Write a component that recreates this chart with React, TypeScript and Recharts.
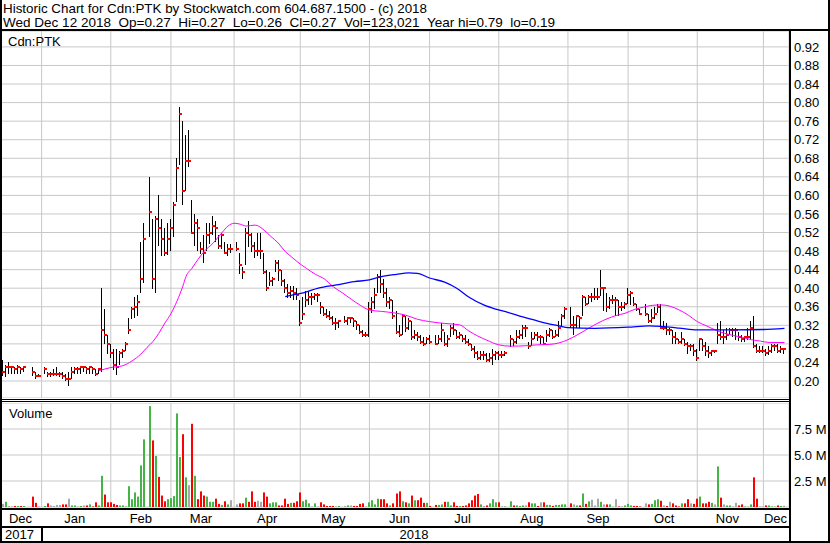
import React from "react";
import { ComposedChart, Bar, Line, XAxis, YAxis, CartesianGrid } from "recharts";

const FONT = "'Liberation Sans', Arial, sans-serif";

// one slot per weekday, 13 Dec 2017 .. 13 Dec 2018 (holidays left empty)
const highs: (number | null)[] = [
  0.245, 0.235, 0.24, 0.23, 0.23, 0.235, 0.23, 0.23, null, null, 0.23, 0.22, 0.215,
  null, 0.23, 0.22, 0.22, 0.225, 0.23, 0.22, 0.22, 0.215, 0.22, 0.23, 0.23, 0.23, 0.23, 0.23, 0.23, 0.23, 0.23, 0.225, 0.225, 0.4, 0.355, 0.3,
  0.28, 0.27, 0.27, 0.265, 0.27, 0.285, 0.335, 0.36, 0.38, 0.385, 0.5, 0.54,
  null, 0.64, 0.55, 0.555, 0.6, 0.55, 0.53, 0.54,
  0.55, 0.585, 0.68, 0.79, 0.76, 0.73, 0.74, 0.59, 0.56, 0.55, 0.5, 0.515, 0.54, 0.54, 0.555, 0.545, 0.515, 0.52, 0.5, 0.495, 0.495,
  null, 0.5, 0.475, 0.445, 0.53, 0.545, 0.52, 0.5, 0.52, 0.52, 0.475, 0.44, 0.435, 0.425, 0.46, 0.46, 0.44, 0.42, 0.41, 0.405, 0.405, 0.4,
  0.375, 0.38, 0.395, 0.395, 0.39, 0.39, 0.39, 0.37, 0.36, 0.355, 0.35, 0.34, 0.335, 0.33,
  null, 0.34, 0.335, 0.335, 0.335, 0.33, 0.32, 0.31, 0.305, 0.37, 0.38, 0.4, 0.43, 0.44, 0.42, 0.4, 0.38, 0.375, 0.35, 0.32, 0.345, 0.34, 0.335, 0.33, 0.31, 0.305, 0.3, 0.295, 0.295, 0.3,
  null, 0.3, 0.3, 0.325, 0.305, 0.3, 0.32, 0.325, 0.31, 0.305, 0.3, 0.3, 0.29, 0.28, 0.275, 0.265, 0.265, 0.265, 0.26, 0.26, 0.27, 0.265, 0.265, 0.265, 0.265,
  null, 0.3, 0.29, 0.31, 0.31, 0.32, 0.32, 0.285, 0.305, 0.305, 0.305, 0.3, 0.295, 0.31, 0.315, 0.31, 0.31, 0.33, 0.345, 0.36,
  null, 0.36, 0.34, 0.34, 0.34, 0.385, 0.38, 0.385, 0.39, 0.4, 0.4, 0.44, 0.4, 0.39, 0.38, 0.385, 0.38, 0.375, 0.37, 0.37, 0.4, 0.395, 0.38, 0.365, 0.355,
  null, 0.365, 0.345, 0.355, 0.36, 0.365, 0.365, 0.33, 0.325, 0.315, 0.31, 0.305, 0.29, 0.305, 0.29, 0.285, 0.28, 0.28, 0.27, 0.29, 0.29, 0.285, 0.275, 0.265, 0.265,
  0.325, 0.33, 0.31, 0.315, 0.315, 0.315, 0.315, 0.305, 0.3, 0.295, 0.315, 0.33, 0.34, 0.28, 0.275, 0.275, 0.27, 0.275, 0.28, 0.28, 0.28, 0.275, 0.27, null,
];

const lows: (number | null)[] = [
  0.21, 0.21, 0.215, 0.215, 0.215, 0.215, 0.215, 0.22, null, null, 0.21, 0.205, 0.21,
  null, 0.215, 0.21, 0.21, 0.21, 0.21, 0.21, 0.205, 0.2, 0.19, 0.205, 0.215, 0.215, 0.215, 0.22, 0.215, 0.215, 0.215, 0.21, 0.215, 0.22, 0.28, 0.26,
  0.25, 0.225, 0.215, 0.235, 0.25, 0.265, 0.3, 0.335, 0.335, 0.34, 0.39, 0.41,
  null, 0.51, 0.4, 0.39, 0.49, 0.47, 0.47, 0.47,
  0.48, 0.51, 0.585, 0.665, 0.58, 0.61, 0.66, 0.52, 0.49, 0.48, 0.475, 0.455, 0.48, 0.495, 0.515, 0.5, 0.485, 0.485, 0.475, 0.47, 0.475,
  null, 0.48, 0.43, 0.42, 0.45, 0.49, 0.48, 0.465, 0.47, 0.465, 0.43, 0.395, 0.405, 0.405, 0.435, 0.415, 0.405, 0.39, 0.38, 0.38, 0.375, 0.375,
  0.32, 0.33, 0.36, 0.365, 0.365, 0.375, 0.37, 0.345, 0.34, 0.335, 0.33, 0.32, 0.31, 0.315,
  null, 0.325, 0.32, 0.325, 0.315, 0.31, 0.3, 0.295, 0.295, 0.295, 0.345, 0.355, 0.39, 0.39, 0.38, 0.36, 0.355, 0.335, 0.3, 0.295, 0.3, 0.305, 0.31, 0.29, 0.29, 0.285, 0.28, 0.275, 0.28, 0.28,
  null, 0.28, 0.28, 0.285, 0.275, 0.275, 0.295, 0.3, 0.29, 0.29, 0.285, 0.28, 0.275, 0.265, 0.25, 0.245, 0.245, 0.245, 0.24, 0.24, 0.235, 0.245, 0.245, 0.25, 0.255,
  null, 0.275, 0.275, 0.28, 0.29, 0.29, 0.295, 0.27, 0.275, 0.29, 0.285, 0.28, 0.28, 0.285, 0.295, 0.29, 0.295, 0.295, 0.32, 0.335,
  null, 0.315, 0.3, 0.315, 0.315, 0.34, 0.36, 0.365, 0.37, 0.375, 0.375, 0.385, 0.35, 0.35, 0.355, 0.365, 0.34, 0.34, 0.35, 0.355, 0.365, 0.365, 0.36, 0.35, 0.345,
  null, 0.34, 0.325, 0.325, 0.335, 0.345, 0.315, 0.31, 0.3, 0.3, 0.28, 0.28, 0.28, 0.28, 0.275, 0.26, 0.265, 0.255, 0.245, 0.265, 0.265, 0.255, 0.25, 0.255, 0.26,
  0.28, 0.29, 0.28, 0.29, 0.3, 0.295, 0.29, 0.285, 0.285, 0.285, 0.29, 0.29, 0.27, 0.26, 0.26, 0.26, 0.255, 0.255, 0.26, 0.265, 0.26, 0.26, 0.26, null,
];

const closes: (number | null)[] = [
  0.22, 0.23, 0.23, 0.23, 0.225, 0.23, 0.225, 0.23, null, null, 0.22, 0.21, 0.21,
  null, 0.225, 0.215, 0.215, 0.215, 0.215, 0.215, 0.21, 0.205, 0.205, 0.22, 0.225, 0.225, 0.23, 0.23, 0.225, 0.23, 0.225, 0.215, 0.225, 0.31, 0.3, 0.28,
  0.26, 0.235, 0.23, 0.26, 0.265, 0.28, 0.31, 0.355, 0.36, 0.37, 0.42, 0.505,
  null, 0.565, 0.42, 0.55, 0.53, 0.505, 0.475, 0.505,
  0.53, 0.58, 0.66, 0.775, 0.61, 0.675, 0.675, 0.52, 0.54, 0.53, 0.485, 0.475, 0.515, 0.52, 0.535, 0.53, 0.49, 0.515, 0.475, 0.485, 0.485,
  null, 0.485, 0.45, 0.435, 0.52, 0.515, 0.49, 0.48, 0.48, 0.48, 0.435, 0.4, 0.415, 0.42, 0.455, 0.44, 0.415, 0.4, 0.39, 0.395, 0.39, 0.385,
  0.325, 0.345, 0.375, 0.38, 0.38, 0.385, 0.385, 0.36, 0.345, 0.34, 0.335, 0.325, 0.325, 0.33,
  null, 0.33, 0.335, 0.335, 0.33, 0.32, 0.305, 0.3, 0.3, 0.355, 0.37, 0.385, 0.425, 0.41, 0.39, 0.37, 0.375, 0.34, 0.305, 0.3, 0.34, 0.315, 0.33, 0.295, 0.3, 0.295, 0.285, 0.28, 0.29, 0.285,
  null, 0.28, 0.29, 0.31, 0.28, 0.29, 0.315, 0.31, 0.295, 0.3, 0.29, 0.285, 0.28, 0.27, 0.26, 0.25, 0.255, 0.255, 0.245, 0.25, 0.255, 0.26, 0.255, 0.255, 0.26,
  null, 0.29, 0.285, 0.295, 0.3, 0.315, 0.315, 0.275, 0.29, 0.3, 0.295, 0.295, 0.28, 0.3, 0.31, 0.295, 0.3, 0.315, 0.34, 0.355,
  null, 0.32, 0.32, 0.34, 0.335, 0.38, 0.365, 0.38, 0.38, 0.38, 0.38, 0.4, 0.4, 0.36, 0.375, 0.375, 0.375, 0.36, 0.36, 0.365, 0.385, 0.39, 0.365, 0.355, 0.345,
  null, 0.345, 0.33, 0.335, 0.345, 0.36, 0.315, 0.315, 0.31, 0.31, 0.295, 0.29, 0.285, 0.29, 0.28, 0.275, 0.275, 0.265, 0.25, 0.29, 0.275, 0.265, 0.26, 0.265, 0.265,
  0.3, 0.295, 0.295, 0.3, 0.31, 0.31, 0.31, 0.295, 0.29, 0.295, 0.295, 0.315, 0.275, 0.265, 0.265, 0.265, 0.26, 0.265, 0.275, 0.275, 0.265, 0.27, 0.27, null,
];

// millions of shares
const volumes: (number | null)[] = [
  0.3, 0.5, 0.1, 0.05, 0.1, 0.1, 0.1, 0.1, null, null, 1.0, 0.4, 0.05,
  null, 0.1, 0.35, 0.15, 0.1, 0.2, 0.2, 0.25, 0.25, 0.8, 0.15, 0.15, 0.05, 0.1, 0.15, 0.15, 0.25, 0.05, 0.45, 0.15, 3.0, 1.2, 0.45,
  0.45, 0.3, 0.2, 0.15, 0.15, 0.05, 2.0, 0.75, 1.4, 1.0, 4.0, 6.5,
  null, 9.7, 6.4, 4.9, 2.9, 1.1, 0.55, 0.75,
  0.85, 1.05, 9.0, 4.8, 7.0, 2.85, 2.1, 8.0, 3.0, 0.75, 1.5, 1.1, 1.0, 0.5, 0.5, 0.8, 0.3, 0.2, 0.55, 0.25, 0.65,
  null, 0.25, 0.35, 0.35, 0.9, 0.5, 1.5, 0.5, 0.6, 0.5, 1.4, 1.0, 0.35, 0.45, 0.45, 0.15, 0.15, 0.8, 0.3, 0.4, 0.4, 0.55,
  1.4, 0.55, 0.7, 0.35, 0.05, 0.35, 0.05, 0.45, 0.25, 0.1, 0.1, 0.1, 0.05, 0.1,
  null, 0.1, 0.15, 0.15, 0.1, 0.1, 0.3, 0.35, 0.05, 0.45, 0.65, 0.25, 0.8, 0.75, 0.75, 0.35, 0.15, 0.35, 1.3, 1.5, 0.55, 0.45, 0.35, 1.1, 0.65, 0.65, 0.9, 0.4, 0.4, 0.1,
  null, 0.2, 0.2, 0.25, 0.5, 0.5, 0.15, 0.45, 0.1, 0.1, 0.1, 0.15, 0.35, 0.65, 1.1, 1.25, 0.25, 0.1, 0.15, 0.35, 0.75, 0.45, 0.45, 0.05, 0.05,
  null, 0.55, 0.15, 0.15, 0.1, 0.15, 0.15, 0.45, 0.35, 0.35, 0.1, 0.45, 0.45, 0.2, 0.2, 0.1, 0.2, 0.2, 0.25, 0.25,
  null, 0.35, 0.25, 0.15, 0.15, 1.3, 0.3, 0.55, 0.7, 0.15, 0.8, 0.5, 0.25, 0.25, 0.25, 0.05, 0.75, 0.05, 0.05, 0.15, 0.3, 0.15, 0.1, 0.1, 0.05,
  null, 0.35, 0.25, 0.3, 0.65, 0.75, 0.6, 0.15, 0.1, 0.5, 0.35, 0.15, 0.05, 0.35, 0.35, 0.75, 0.35, 0.3, 0.8, 1.0, 0.35, 0.35, 0.5, 0.4, 0.25,
  3.9, 0.9, 0.25, 0.15, 0.15, 0.05, 0.4, 0.15, 0.25, 0.05, 0.05, 0.25, 2.85, 0.8, 0.05, 0.05, 0.15, 0.15, 0.05, 0.05, 0.15, 0.1, 0.12, null,
];

// moving averages at these slots
const maShortSlots = [32, 36, 40, 43, 46, 48, 50, 52, 54, 56, 58, 60, 61, 63, 65, 67, 70, 73, 75, 77, 79, 81, 84, 87, 89, 92, 94, 96, 98, 101, 104, 107, 110, 113, 116, 119, 122, 126, 130, 134, 138, 142, 147, 152, 155, 158, 161, 165, 169, 174, 178, 182, 185, 188, 191, 195, 198, 201, 204, 207, 210, 213, 216, 219, 222, 225, 228, 231, 234, 237, 240, 243, 246, 249, 252, 255, 260];
const maShortValues = [0.222, 0.229, 0.233, 0.243, 0.258, 0.272, 0.285, 0.303, 0.325, 0.345, 0.372, 0.405, 0.425, 0.443, 0.462, 0.479, 0.497, 0.52, 0.534, 0.54, 0.538, 0.534, 0.536, 0.525, 0.513, 0.495, 0.479, 0.468, 0.457, 0.443, 0.43, 0.42, 0.403, 0.39, 0.376, 0.363, 0.353, 0.35, 0.347, 0.342, 0.333, 0.328, 0.324, 0.321, 0.308, 0.297, 0.288, 0.278, 0.275, 0.276, 0.278, 0.279, 0.282, 0.289, 0.299, 0.314, 0.325, 0.334, 0.341, 0.346, 0.354, 0.359, 0.363, 0.364, 0.361, 0.353, 0.342, 0.328, 0.319, 0.31, 0.303, 0.298, 0.294, 0.289, 0.286, 0.283, 0.283];
const maLongSlots = [94, 97, 100, 105, 111, 117, 122, 126, 131, 135, 138, 142, 147, 151, 155, 160, 164, 168, 173, 177, 181, 185, 188, 197, 208, 215, 220, 225, 231, 242, 253, 260];
const maLongValues = [0.382, 0.386, 0.39, 0.4, 0.407, 0.414, 0.418, 0.425, 0.43, 0.433, 0.432, 0.422, 0.413, 0.4, 0.381, 0.364, 0.355, 0.348, 0.338, 0.331, 0.324, 0.319, 0.315, 0.3135, 0.316, 0.319, 0.317, 0.314, 0.31, 0.31, 0.311, 0.3135];

const priceTicks = [0.2, 0.24, 0.28, 0.32, 0.36, 0.4, 0.44, 0.48, 0.52, 0.56, 0.6, 0.64, 0.68, 0.72, 0.76, 0.8, 0.84, 0.88, 0.92];
const volumeTicks = [2.5, 5, 7.5];
const monthStartSlots = [13, 36, 56, 77, 99, 122, 142, 165, 188, 208, 231, 253];
const monthLabelSlots = [6, 24, 46, 66, 88, 110, 132, 153, 176, 198, 220, 241, 257];
const monthLabels = ["Dec", "Jan", "Feb", "Mar", "Apr", "May", "Jun", "Jul", "Aug", "Sep", "Oct", "Nov", "Dec"];

// layout
const W = 830;
const H = 543;
const AXIS_W = 41;
const PRICE_TOP = 31;
const PRICE_BOTTOM = 398;
const Y_AT_020 = 381; // pixel row of 0.20
const PX_PER_DOLLAR = 464;
const priceDomain = [
  0.2 - (PRICE_BOTTOM - Y_AT_020) / PX_PER_DOLLAR,
  0.2 + (Y_AT_020 - PRICE_TOP) / PX_PER_DOLLAR,
];
const VOL_TOP = 403;
const VOL_PLOT_H = 104;
const MONTH_ROW_H = 20;

const GREEN = "#44b444";
const RED = "#ff0000";
const GREY = "#a8a8a8";
const GRID = "#c8c8c8";

let prevClose: number | null = null;
const rows = highs.map((hi, i) => {
  const cl = closes[i];
  let dir = 0;
  if (cl != null && prevClose != null) dir = cl > prevClose ? 1 : cl < prevClose ? -1 : 0;
  if (cl != null) prevClose = cl;
  return {
    slot: i,
    hi,
    lo: lows[i],
    cl,
    range: hi == null ? null : [lows[i], hi],
    vol: volumes[i],
    dir,
    maS: null as number | null,
    maL: null as number | null,
  };
});
maShortSlots.forEach((s, j) => (rows[s].maS = maShortValues[j]));
maLongSlots.forEach((s, j) => (rows[s].maL = maLongValues[j]));

const tickStyle = { fontSize: 13, fill: "#000", fontFamily: FONT };

function PriceBar(props: any) {
  const { x, y, width, height, payload } = props;
  if (!payload || payload.hi == null) return <g />;
  const cx = Math.round(x + width / 2) - 1;
  const span = payload.hi - payload.lo;
  const cy = span > 0 ? y + ((payload.hi - payload.cl) / span) * height : y;
  return (
    <g>
      <rect x={cx} y={Math.round(y)} width={1} height={Math.max(1, Math.round(height))} fill="#000" />
      <rect x={cx} y={Math.round(cy) - 1} width={3} height={2} fill={RED} />
    </g>
  );
}

function VolumeBar(props: any) {
  const { x, y, width, height, payload } = props;
  if (!payload || payload.vol == null || !(height > 0)) return <g />;
  const cx = Math.round(x + width / 2) - 1;
  const fill = payload.dir > 0 ? GREEN : payload.dir < 0 ? RED : GREY;
  return <rect x={cx} y={y} width={2} height={height} fill={fill} />;
}

export default function App() {
  return (
    <div style={{ position: "fixed", left: 0, top: 0, width: W, height: H, background: "#fff", fontFamily: FONT }}>
      <div style={{ position: "absolute", left: 0, top: PRICE_TOP }}>
        <ComposedChart
          width={W}
          height={PRICE_BOTTOM - PRICE_TOP}
          data={rows}
          margin={{ top: 0, right: 0, bottom: 0, left: 1 }}
          barCategoryGap={0}
          barGap={0}
        >
          <CartesianGrid stroke={GRID} />
          <XAxis dataKey="slot" type="category" hide height={0} ticks={monthStartSlots} interval={0} />
          <YAxis
            orientation="right"
            width={AXIS_W}
            type="number"
            domain={priceDomain}
            allowDataOverflow
            ticks={priceTicks}
            interval={0}
            tickFormatter={(v: number) => v.toFixed(2)}
            axisLine={false}
            tickLine={false}
            tickSize={3}
            tickMargin={2}
            tick={tickStyle}
          />
          <Bar dataKey="range" shape={PriceBar} isAnimationActive={false} />
          <Line dataKey="maS" type="monotone" stroke="#ff00ff" strokeWidth={1} dot={false} activeDot={false} connectNulls isAnimationActive={false} />
          <Line dataKey="maL" type="monotone" stroke="#0000ff" strokeWidth={1.3} dot={false} activeDot={false} connectNulls isAnimationActive={false} />
        </ComposedChart>
      </div>

      <div style={{ position: "absolute", left: 0, top: VOL_TOP }}>
        <ComposedChart
          width={W}
          height={VOL_PLOT_H + MONTH_ROW_H}
          data={rows}
          margin={{ top: 0, right: 0, bottom: 0, left: 1 }}
          barCategoryGap={0}
          barGap={0}
        >
          <CartesianGrid stroke={GRID} />
          <XAxis dataKey="slot" type="category" hide height={0} ticks={monthStartSlots} interval={0} />
          <XAxis
            xAxisId="months"
            dataKey="slot"
            type="category"
            ticks={monthLabelSlots}
            interval={0}
            height={MONTH_ROW_H}
            tickFormatter={(v: number) => monthLabels[monthLabelSlots.indexOf(v)] ?? ""}
            axisLine={false}
            tickLine={false}
            tickSize={5}
            tickMargin={2}
            tick={tickStyle}
          />
          <YAxis
            orientation="right"
            width={AXIS_W}
            type="number"
            domain={[0, 10]}
            allowDataOverflow
            ticks={volumeTicks}
            interval={0}
            tickFormatter={(v: number) => `${v.toFixed(1)} M`}
            axisLine={false}
            tickLine={false}
            tickSize={3}
            tickMargin={2}
            tick={tickStyle}
          />
          <Bar dataKey="vol" shape={VolumeBar} isAnimationActive={false} />
        </ComposedChart>
      </div>

      <svg width={W} height={H} style={{ position: "absolute", left: 0, top: 0, pointerEvents: "none" }}>
        <g fill="#000">
          <rect x={0} y={29} width={W} height={2} />
          <rect x={0} y={0} width={2} height={H} />
          <rect x={828} y={0} width={2} height={H} />
          <rect x={789} y={29} width={2} height={H - 29} />
          <rect x={0} y={399} width={790} height={1} />
          <rect x={0} y={401} width={790} height={1} />
          <rect x={0} y={508} width={790} height={2} />
          <rect x={0} y={526} width={790} height={2} />
          <rect x={41} y={527} width={2} height={15} />
          <rect x={0} y={541} width={W} height={2} />
        </g>
        <g fontFamily={FONT} fontSize={13} fill="#000">
          <text x={3} y={13} xmlSpace="preserve" textLength={424} lengthAdjust="spacingAndGlyphs">
            Historic Chart for Cdn:PTK by Stockwatch.com 604.687.1500 - (c) 2018
          </text>
          <text x={3} y={27} xmlSpace="preserve" textLength={552} lengthAdjust="spacingAndGlyphs">
            {"Wed Dec 12 2018  Op=0.27  Hi=0.27  Lo=0.26  Cl=0.27  Vol=123,021  Year hi=0.79  lo=0.19"}
          </text>
        </g>
        <g fontFamily={FONT} fontSize={13} fill="#000">
          <text x={8} y={46}>Cdn:PTK</text>
          <text x={9} y={418}>Volume</text>
          <text x={5} y={539}>2017</text>
          <text x={414} y={539} textAnchor="middle">2018</text>
        </g>
      </svg>
    </div>
  );
}
